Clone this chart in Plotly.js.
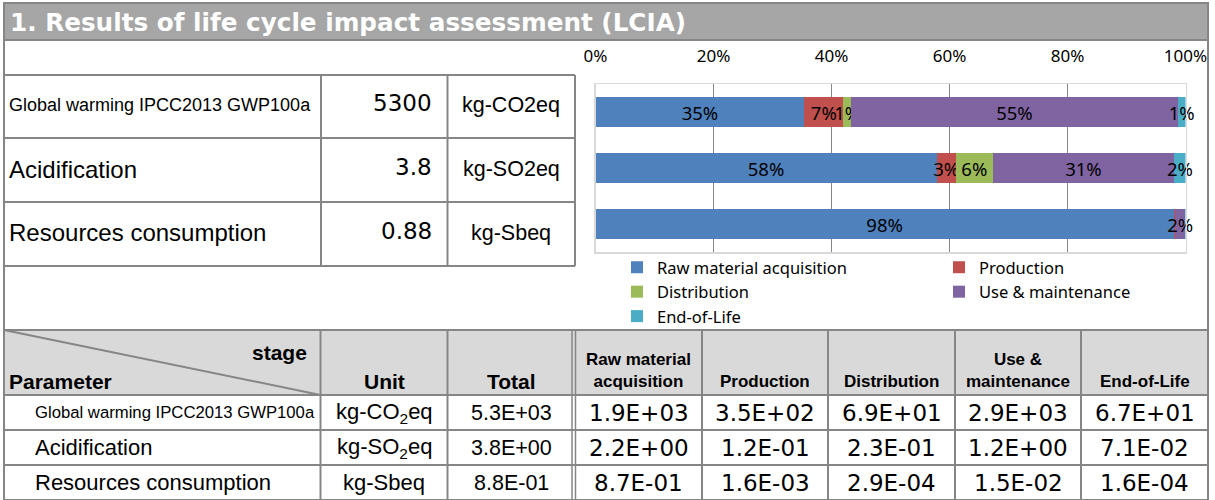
<!DOCTYPE html>
<html><head><meta charset="utf-8">
<script src="https://cdn.plot.ly/plotly-3.0.1.min.js"></script>
<style>html,body{margin:0;padding:0;background:#fff;}#chart{width:1215px;height:500px;}</style>
</head><body><div id="chart"></div>
<script>
// ---------- data ----------
const paramLabels = ['Global warming IPCC2013 GWP100a', 'Acidification', 'Resources consumption'];
const unitLabels = ['kg-CO2eq', 'kg-SO2eq', 'kg-Sbeq'];
const unitLabelsSub = ['kg-CO<sub>2</sub>eq', 'kg-SO<sub>2</sub>eq', 'kg-Sbeq'];
const totalValues = [5300, 3.8, 0.88];
const stageNames = ['Raw material acquisition', 'Production', 'Distribution', 'Use & maintenance', 'End-of-Life'];
const stageHeaderLabels = ['Raw material<br>acquisition', 'Production', 'Distribution', 'Use &<br>maintenance', 'End-of-Life'];
const rawValues = [1.9e3, 2.2, 8.7e-1];
const productionValues = [3.5e2, 1.2e-1, 1.6e-3];
const distributionValues = [6.9e1, 2.3e-1, 2.9e-4];
const useValues = [2.9e3, 1.2, 1.5e-2];
const eolValues = [6.7e1, 7.1e-2, 1.6e-4];
// shares (%)
const rawShare = [35.4, 57.8, 98.0];
const productionShare = [6.6, 3.3, 0.2];
const distributionShare = [1.3, 6.2, 0.03];
const useShare = [55.4, 30.8, 1.75];
const eolShare = [1.3, 1.9, 0.02];
const xTickVals = [0, 20, 40, 60, 80, 100];
const titleText = '1. Results of life cycle impact assessment (LCIA)';

// ---------- styles ----------
const stageColors = ['#4F81BD', '#C0504D', '#9BBB59', '#8064A2', '#4BACC6'];
const W = 1215, H = 500;
const X = px => px / W;
const Y = py => 1 - py / H;
const BORDER = '#868686';

function sci(v) {
  const s = v.toExponential(1).toUpperCase();
  return s.replace(/E([+-])(\d+)$/, (m, sg, d) => 'E' + sg + (d.length < 2 ? '0' + d : d));
}

const shares = [rawShare, productionShare, distributionShare, useShare, eolShare];
const stageValues = [rawValues, productionValues, distributionValues, useValues, eolValues];

const traces = stageNames.map((name, i) => ({
  type: 'bar', orientation: 'h', name: name,
  x: shares[i], y: paramLabels,
  marker: {color: stageColors[i], line: {width: 0}},
  text: shares[i].map(v => v >= 0.5 ? Math.round(v) + '%' : ''),
  textposition: 'inside', insidetextanchor: 'middle', constraintext: 'none', textangle: 0,
  insidetextfont: {family: 'Noto Sans', size: 18.5, color: '#000'},
  cliponaxis: false, hoverinfo: 'skip',
  legend: (i % 2 === 0) ? 'legend' : 'legend2'
}));

// ---------- table drawing ----------
const shapes = [];
const ann = [];
function line(x0, y0, x1, y1, w, c) {
  shapes.push({type: 'line', xref: 'paper', yref: 'paper', x0: X(x0), y0: Y(y0), x1: X(x1), y1: Y(y1),
    line: {color: c || BORDER, width: w || 2}, layer: 'above'});
}
function rect(x0, y0, x1, y1, fill) {
  shapes.push({type: 'rect', xref: 'paper', yref: 'paper', x0: X(x0), y0: Y(y0), x1: X(x1), y1: Y(y1),
    fillcolor: fill, line: {width: 0}, layer: 'below'});
}
function txt(t, x, y, xa, size, family, opts) {
  opts = opts || {};
  ann.push({text: t, x: X(x), y: Y(y), xref: 'paper', yref: 'paper', xanchor: xa, yanchor: 'middle',
    showarrow: false, align: opts.align || 'center',
    font: {family: family, size: size, color: opts.color || '#000'}});
}

// title bar + frame
rect(3, 3, 1209, 40, '#a6a6a6');
rect(4, 330, 1208, 395, '#d9d9d9');
line(3, 3, 1209, 3);
line(3, 40, 1209, 40);
line(4, 2, 4, 500);
line(1208, 2, 1208, 500);
txt('<b>' + titleText + '</b>', 8, 22, 'left', 24.7, 'DejaVu Sans', {color: '#fff'});

// top-left summary table
const ltRows = [75, 138, 202, 266];
ltRows.forEach(y => line(4, y, 575, y));
[321, 447.5, 575].forEach(x => line(x, 75, x, 266));
const ltParamSize = [18, 24, 24];
paramLabels.forEach((p, r) => {
  const yc = (ltRows[r] + ltRows[r + 1]) / 2 - 1;
  txt(p, 7, yc, 'left', ltParamSize[r], 'Liberation Sans');
  txt(String(totalValues[r]), 434, yc - 2, 'right', 23, 'DejaVu Sans');
  txt(unitLabels[r], 511, yc, 'center', 21.5, 'Liberation Sans');
});

// bottom results table
const btRows = [330, 395, 430, 465, 500];
btRows.forEach(y => line(4, y, 1208, y));
const btCols = [320.5, 447.5, 572, 575.5, 702, 828, 955, 1081];
btCols.forEach((x, i) => line(x, 330, x, 500, (i === 2 || i === 3) ? 1.5 : 2));
line(4, 330, 320.5, 395, 2);
txt('<b>stage</b>', 309, 352, 'right', 21, 'Liberation Sans');
txt('<b>Parameter</b>', 7, 381, 'left', 21, 'Liberation Sans');
txt('<b>Unit</b>', 384, 381, 'center', 21, 'Liberation Sans');
txt('<b>Total</b>', 511, 381, 'center', 21, 'Liberation Sans');
const stageColEdges = [575.5, 702, 828, 955, 1081, 1208];
stageHeaderLabels.forEach((h, i) => {
  const xc = (stageColEdges[i] + stageColEdges[i + 1]) / 2;
  const yc = h.indexOf('<br>') >= 0 ? 370 : 381;
  txt('<b>' + h + '</b>', xc, yc, 'center', 17, 'Liberation Sans');
});
const btParamSize = [16.7, 22, 22];
paramLabels.forEach((p, r) => {
  const yc = (btRows[r + 1] + btRows[r + 2]) / 2;
  txt(p, 33, yc, 'left', btParamSize[r], 'Liberation Sans');
  txt(unitLabelsSub[r], 384, yc, 'center', 22, 'Liberation Sans');
  txt(sci(totalValues[r]), 511, yc, 'center', 21.5, 'Liberation Sans');
  stageValues.forEach((vals, i) => {
    const xc = (stageColEdges[i] + stageColEdges[i + 1]) / 2;
    txt(sci(vals[r]), xc, yc, 'center', 23, 'DejaVu Sans');
  });
});

const legendBase = {
  xanchor: 'left', yanchor: 'top', orientation: 'v', traceorder: 'normal',
  font: {family: 'Noto Sans', size: 16.5, color: '#000'},
  bgcolor: 'rgba(0,0,0,0)', borderwidth: 0, itemclick: false, itemdoubleclick: false
};

const layout = {
  width: W, height: H,
  margin: {l: 0, r: 0, t: 0, b: 0, autoexpand: false},
  paper_bgcolor: '#fff', plot_bgcolor: '#fff',
  barmode: 'stack', bargap: 0.48,
  showlegend: true,
  legend: Object.assign({x: X(617), y: Y(250)}, legendBase),
  legend2: Object.assign({x: X(939), y: Y(250)}, legendBase),
  xaxis: {
    domain: [X(595.5), X(1185.5)], range: [0, 100], side: 'top',
    tickvals: xTickVals, ticktext: xTickVals.map(v => v + '%'),
    showgrid: true, gridcolor: '#868686', gridwidth: 1, zeroline: false,
    showline: true, mirror: true, linecolor: '#d9d9d9', linewidth: 1.5,
    ticks: '', ticklabelstandoff: 14,
    tickfont: {family: 'Noto Sans', size: 17, color: '#000'}, fixedrange: true
  },
  yaxis: {
    domain: [Y(252), Y(84)], type: 'category', autorange: 'reversed',
    showticklabels: false, showgrid: false, zeroline: false,
    showline: true, mirror: true, linecolor: '#d9d9d9', linewidth: 1.5, ticks: '', fixedrange: true
  },
  shapes: shapes,
  annotations: ann
};

Plotly.newPlot('chart', traces, layout, {staticPlot: true, displayModeBar: false});
</script></body></html>
